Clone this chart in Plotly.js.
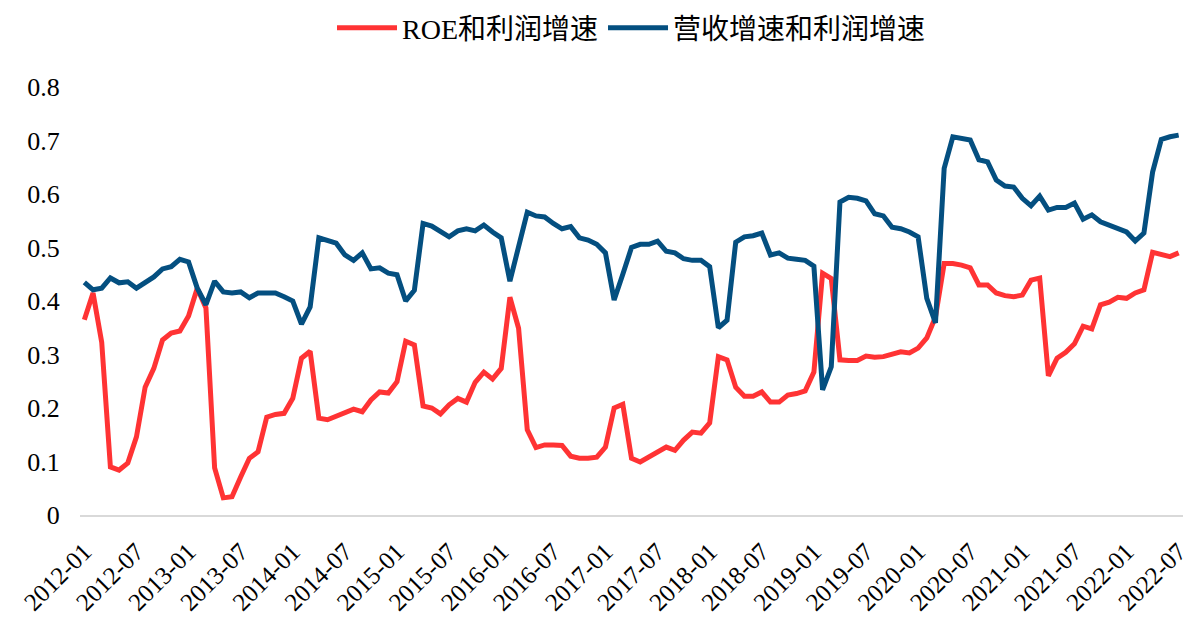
<!DOCTYPE html>
<html>
<head>
<meta charset="utf-8">
<script src="https://cdn.plot.ly/plotly-3.0.1.min.js"></script>
<style>html,body{margin:0;padding:0;background:#fff;}#chart{width:1197px;height:624px;}</style>
</head>
<body>
<div id="chart"></div>
<script>
// Monthly categories 2012-01 .. 2022-07
const months = [];
for (let y = 2012; y <= 2022; y++) {
  for (let m = 1; m <= 12; m++) {
    if (y === 2022 && m > 7) break;
    months.push(y + '-' + (m < 10 ? '0' + m : '' + m));
  }
}
const tickLabels = months.filter((d, i) => i % 6 === 0);

const seriesNames = ['ROE和利润增速', '营收增速和利润增速'];

const roeProfit = [
  0.365,0.415,0.323,0.090,0.084,0.097,0.146,0.239,0.274,0.327,0.340,0.344,
  0.372,0.424,0.387,0.088,0.032,0.034,0.071,0.106,0.118,0.183,0.188,0.190,
  0.218,0.293,0.306,0.181,0.178,0.185,0.192,0.198,0.193,0.215,0.230,0.228,
  0.249,0.325,0.318,0.204,0.200,0.189,0.206,0.218,0.211,0.248,0.267,0.254,
  0.274,0.407,0.349,0.159,0.126,0.131,0.131,0.130,0.110,0.106,0.106,0.108,
  0.127,0.200,0.207,0.106,0.099,0.108,0.118,0.127,0.121,0.140,0.155,0.153,
  0.172,0.296,0.290,0.239,0.222,0.222,0.230,0.211,0.211,0.224,0.227,0.232,
  0.267,0.452,0.442,0.290,0.289,0.289,0.297,0.295,0.296,0.300,0.305,0.303,
  0.312,0.331,0.370,0.470,0.470,0.467,0.462,0.430,0.430,0.415,0.410,0.408,
  0.411,0.439,0.443,0.260,0.293,0.304,0.320,0.353,0.348,0.393,0.398,0.407,
  0.405,0.415,0.421,0.491,0.486,0.483,0.490
];

const revenueProfit = [
  0.435,0.421,0.424,0.443,0.434,0.436,0.424,0.435,0.445,0.460,0.464,0.478,
  0.473,0.424,0.393,0.437,0.417,0.415,0.417,0.406,0.415,0.415,0.415,0.408,
  0.400,0.357,0.389,0.518,0.512,0.508,0.486,0.476,0.490,0.460,0.462,0.452,
  0.449,0.400,0.420,0.545,0.540,0.531,0.520,0.531,0.535,0.531,0.542,0.529,
  0.518,0.437,0.500,0.566,0.559,0.557,0.545,0.535,0.539,0.518,0.514,0.506,
  0.490,0.402,0.450,0.500,0.506,0.506,0.512,0.493,0.490,0.479,0.476,0.476,
  0.464,0.350,0.364,0.510,0.520,0.522,0.527,0.486,0.490,0.480,0.478,0.476,
  0.465,0.234,0.277,0.585,0.594,0.592,0.587,0.563,0.559,0.538,0.535,0.529,
  0.520,0.405,0.359,0.648,0.707,0.705,0.701,0.664,0.660,0.626,0.615,0.613,
  0.592,0.578,0.596,0.570,0.575,0.575,0.583,0.553,0.561,0.548,0.542,0.536,
  0.529,0.512,0.527,0.641,0.702,0.707,0.710
];

const FONT = '"Liberation Serif", "Times New Roman", "Noto Sans CJK SC", serif';

const traces = [
  {x: months, y: roeProfit, name: seriesNames[0], type: 'scatter', mode: 'lines',
   line: {color: '#FF3334', width: 5}},
  {x: months, y: revenueProfit, name: seriesNames[1], type: 'scatter', mode: 'lines',
   line: {color: '#044F80', width: 5}}
];

const layout = {
  width: 1197, height: 624,
  margin: {l: 80, r: 14, t: 87, b: 109},
  paper_bgcolor: '#fff', plot_bgcolor: '#fff',
  font: {family: FONT, color: '#000', size: 24},
  showlegend: true,
  legend: {orientation: 'h', x: 0.5, xanchor: 'center', y: 0.995, yref: 'container', yanchor: 'top',
           itemwidth: 60, font: {family: FONT, size: 28, color: '#000'}},
  xaxis: {
    type: 'category', range: [-0.5, months.length - 0.5],
    tickmode: 'array', tickvals: tickLabels, ticktext: tickLabels,
    tickangle: -45, showgrid: false, zeroline: false,
    showline: true, linecolor: '#d9d9d9', linewidth: 2,
    ticks: 'outside', ticklen: 10, tickcolor: 'rgba(0,0,0,0)',
    tickfont: {family: FONT, size: 25, color: '#000'}
  },
  yaxis: {
    range: [0, 0.8], dtick: 0.1, tick0: 0,
    showgrid: false, zeroline: false, showline: false,
    ticks: 'outside', ticklen: 14, tickcolor: 'rgba(0,0,0,0)',
    tickfont: {family: FONT, size: 26, color: '#000'}
  }
};

Plotly.newPlot('chart', traces, layout, {displayModeBar: false, staticPlot: true});
</script>
</body>
</html>
